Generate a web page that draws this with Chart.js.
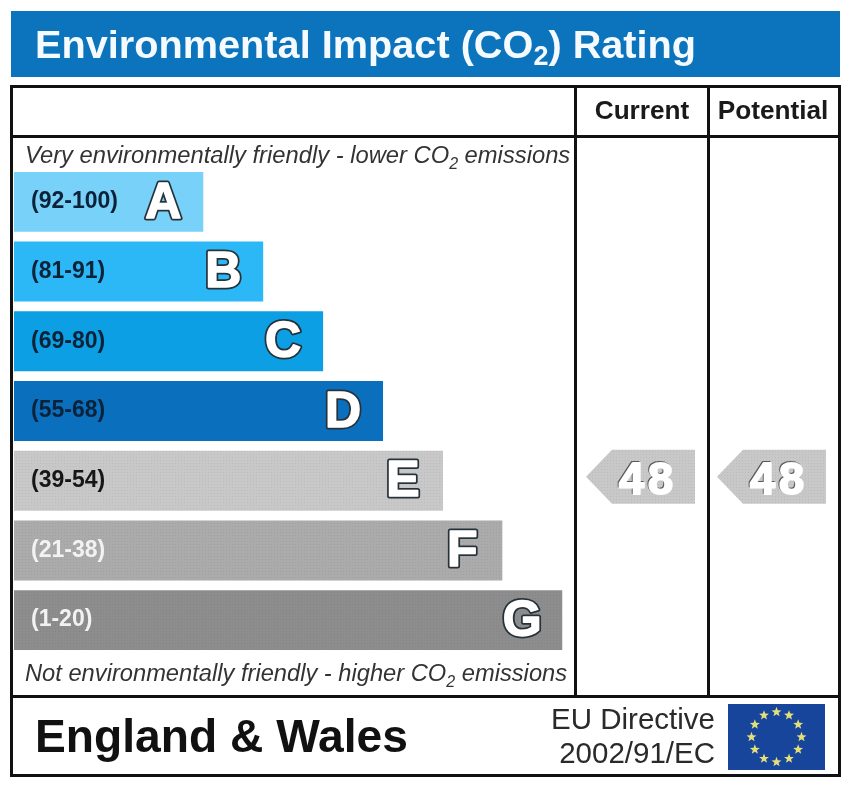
<!DOCTYPE html>
<html>
<head>
<meta charset="utf-8">
<title>Environmental Impact (CO2) Rating</title>
<script src="https://cdn.jsdelivr.net/npm/chart.js@4/dist/chart.umd.min.js"></script>
<style>
  html, body { margin: 0; padding: 0; background: #fff; }
  canvas { display: block; filter: blur(0.5px); }
</style>
</head>
<body>
<canvas id="myChart" width="850" height="785"></canvas>
<script>
var bandRanges = ['(92-100)', '(81-91)', '(69-80)', '(55-68)', '(39-54)', '(21-38)', '(1-20)'];
var bandLetters = ['A', 'B', 'C', 'D', 'E', 'F', 'G'];
var bandMinimums = [92, 81, 69, 55, 39, 21, 1];
var bandLengths = [33.8, 44.5, 55.2, 65.9, 76.6, 87.2, 97.9];
var currentRating = 48;
var potentialRating = 48;

var tickColors = ['#0c2238', '#0c2238', '#0c2238', '#0c2238', '#161616', '#f2f2f2', '#f2f2f2'];
var FONT = '"Liberation Sans", Arial, sans-serif';

// the grey bands have a fine dot screen
function dotted(base, dot) {
  var tile = document.createElement('canvas');
  tile.width = 3;
  tile.height = 3;
  var t = tile.getContext('2d');
  t.fillStyle = base;
  t.fillRect(0, 0, 3, 3);
  t.fillStyle = dot;
  t.fillRect(1, 1, 1, 1);
  return t.createPattern(tile, 'repeat');
}

var barColors = [
  '#78d1f8', '#2cb8f6', '#0d9fe4', '#0a70be',
  dotted('#c8c8c8', '#bbbbbb'), dotted('#ababab', '#a0a0a0'), dotted('#8d8d8d', '#848484')
];
var arrowFill = dotted('#c8c8c8', '#bbbbbb');

function textWithSub(ctx, before, sub, after, x, y, size, style, drop) {
  ctx.textAlign = 'left';
  ctx.textBaseline = 'alphabetic';
  ctx.font = style + ' ' + size + 'px ' + FONT;
  ctx.fillText(before, x, y);
  x += ctx.measureText(before).width;
  ctx.font = style + ' ' + Math.round(size * 0.68) + 'px ' + FONT;
  ctx.fillText(sub, x, y + drop);
  x += ctx.measureText(sub).width;
  ctx.font = style + ' ' + size + 'px ' + FONT;
  ctx.fillText(after, x, y);
}

function star(ctx, cx, cy, r) {
  ctx.beginPath();
  for (var i = 0; i < 10; i++) {
    var rad = i % 2 ? r * 0.42 : r;
    var ang = -Math.PI / 2 + i * Math.PI / 5;
    ctx.lineTo(cx + rad * Math.cos(ang), cy + rad * Math.sin(ang));
  }
  ctx.closePath();
  ctx.fill();
}

// banner, frame, footer and the two friendliness captions
var framePlugin = {
  id: 'frame',
  beforeDraw: function (chart) {
    var ctx = chart.ctx;
    ctx.save();
    ctx.fillStyle = '#fff';
    ctx.fillRect(0, 0, 850, 785);

    ctx.fillStyle = '#0b74bc';
    ctx.fillRect(11, 11, 829, 66);
    ctx.fillStyle = '#f4fafd';
    textWithSub(ctx, 'Environmental Impact (CO', '2', ') Rating', 35, 58, 39.7, 'bold', 7);

    ctx.strokeStyle = '#111';
    ctx.lineWidth = 3;
    ctx.strokeRect(11.5, 86.5, 828, 689);
    ctx.beginPath();
    ctx.moveTo(11, 136.5); ctx.lineTo(840, 136.5);
    ctx.moveTo(11, 696.5); ctx.lineTo(840, 696.5);
    ctx.moveTo(575.5, 86); ctx.lineTo(575.5, 696);
    ctx.moveTo(708.5, 86); ctx.lineTo(708.5, 696);
    ctx.stroke();

    ctx.fillStyle = '#1a1a1a';
    ctx.textAlign = 'center';
    ctx.textBaseline = 'alphabetic';
    ctx.font = 'bold 26.2px ' + FONT;
    ctx.fillText('Current', 642, 119);
    ctx.fillText('Potential', 773, 119);

    ctx.fillStyle = '#333';
    textWithSub(ctx, 'Very environmentally friendly - lower CO', '2', ' emissions', 25, 163, 23.75, 'italic', 6);
    textWithSub(ctx, 'Not environmentally friendly - higher CO', '2', ' emissions', 25, 681, 23.7, 'italic', 6);

    ctx.fillStyle = '#111';
    ctx.textAlign = 'left';
    ctx.font = 'bold 46.2px ' + FONT;
    ctx.fillText('England & Wales', 35, 752);

    ctx.fillStyle = '#2a2a2a';
    ctx.textAlign = 'right';
    ctx.font = '29.5px ' + FONT;
    ctx.fillText('EU Directive', 715, 729);
    ctx.fillText('2002/91/EC', 715, 763);

    ctx.fillStyle = '#17459c';
    ctx.fillRect(728, 704, 97, 66);
    ctx.fillStyle = '#e4df78';
    for (var i = 0; i < 12; i++) {
      var a = i * Math.PI / 6;
      star(ctx, 776.5 + 25 * Math.sin(a), 737 - 25 * Math.cos(a), 5.2);
    }
    ctx.restore();
  }
};

// fat white letter with a dark rim
function outlined(ctx, text, x, y, size) {
  ctx.font = 'bold ' + size + 'px ' + FONT;
  ctx.textAlign = 'center';
  ctx.textBaseline = 'middle';
  ctx.lineJoin = 'round';
  ctx.lineWidth = 5;
  ctx.strokeStyle = '#26323a';
  ctx.strokeText(text, x, y);
  ctx.lineWidth = 1.5;
  ctx.strokeStyle = '#fff';
  ctx.strokeText(text, x, y);
  ctx.fillStyle = '#fff';
  ctx.fillText(text, x, y);
}

function bandIndex(rating) {
  for (var i = 0; i < bandMinimums.length; i++) {
    if (rating >= bandMinimums[i]) return i;
  }
  return bandMinimums.length - 1;
}

function ratingArrow(chart, rating, tipX) {
  var ctx = chart.ctx;
  var bar = chart.getDatasetMeta(0).data[bandIndex(rating)];
  var top = bar.y - bar.height / 2 - 1;
  var h = 54;
  ctx.fillStyle = arrowFill;
  ctx.beginPath();
  ctx.moveTo(tipX, top + h / 2);
  ctx.lineTo(tipX + 26, top);
  ctx.lineTo(tipX + 109, top);
  ctx.lineTo(tipX + 109, top + h);
  ctx.lineTo(tipX + 26, top + h);
  ctx.closePath();
  ctx.fill();

  // soft dark edge on the upper left of the figures only
  var cx = tipX + 62;
  var cy = top + h / 2 + 5;
  ctx.font = 'bold 45px ' + FONT;
  ctx.letterSpacing = '4px';
  ctx.textAlign = 'center';
  ctx.textBaseline = 'middle';
  ctx.lineJoin = 'round';
  ctx.lineWidth = 2;
  ctx.strokeStyle = '#5a5a5a';
  ctx.strokeText(String(rating), cx - 1, cy - 1);
  ctx.strokeStyle = '#fff';
  ctx.strokeText(String(rating), cx, cy);
  ctx.fillStyle = '#fff';
  ctx.fillText(String(rating), cx, cy);
  ctx.letterSpacing = '0px';
}

// band letters at the bar ends, rating arrows in the two right columns
var markPlugin = {
  id: 'marks',
  afterDraw: function (chart) {
    var ctx = chart.ctx;
    ctx.save();
    chart.getDatasetMeta(0).data.forEach(function (bar, i) {
      outlined(ctx, bandLetters[i], bar.x - 40, bar.y + 2, 50);
    });
    ratingArrow(chart, currentRating, 586);
    ratingArrow(chart, potentialRating, 717);
    ctx.restore();
  }
};

var ctx = document.getElementById('myChart');
new Chart(ctx, {
  type: 'bar',
  data: {
    labels: bandRanges,
    datasets: [{
      data: bandLengths,
      backgroundColor: barColors,
      barPercentage: 1,
      categoryPercentage: 0.86
    }]
  },
  options: {
    indexAxis: 'y',
    responsive: false,
    animation: false,
    layout: { padding: { left: 14, right: 276, top: 167, bottom: 130 } },
    plugins: { legend: { display: false }, title: { display: false }, tooltip: { enabled: false } },
    scales: {
      x: { display: false, min: 0, max: 100 },
      y: {
        afterFit: function (scale) { scale.width = 0; },
        grid: { display: false },
        border: { display: false },
        ticks: {
          z: 1,
          mirror: true,
          padding: 17,
          color: function (c) { return tickColors[c.index]; },
          font: { family: FONT, size: 23, weight: 'bold' }
        }
      }
    }
  },
  plugins: [framePlugin, markPlugin]
});
</script>
</body>
</html>
